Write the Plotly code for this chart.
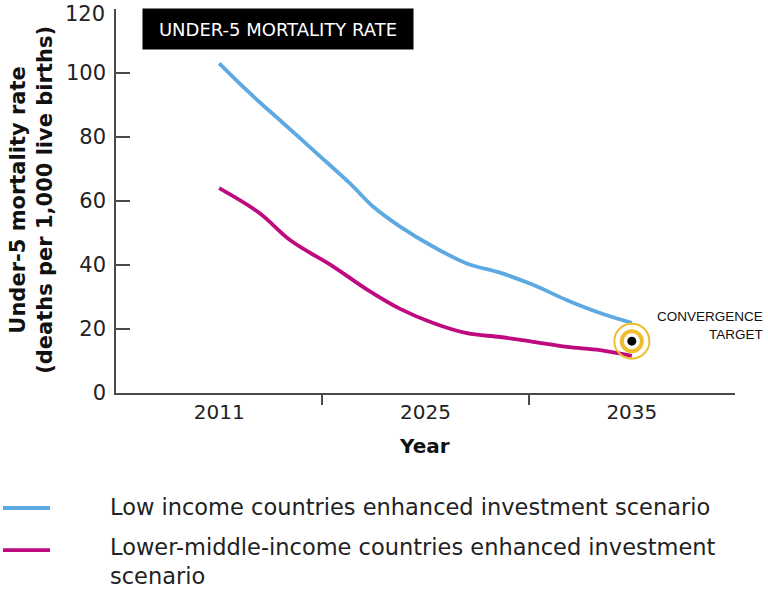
import plotly.graph_objects as go

# ---- data ----
year_labels = ["2011", "2025", "2035"]
year_index = [0, 1, 2]
y_ticks = [0, 20, 40, 60, 80, 100, 120]
y_ticktext = ["0", "20", "40", "60", "80", "100", ""]  # top label drawn separately (nudged down)
y_top_label = "120"

low_x = [0, 0.150, 0.311, 0.473, 0.634, 0.747, 0.877, 1.038, 1.200, 1.361, 1.521, 1.686, 1.846, 2.0]
low_y = [103.0, 93.6, 84.3, 74.9, 65.5, 58.2, 52.0, 45.7, 40.5, 37.6, 33.8, 29.0, 25.0, 21.9]

lmi_x = [0, 0.198, 0.343, 0.553, 0.715, 0.877, 1.037, 1.201, 1.361, 1.521, 1.686, 1.846, 2.0]
lmi_y = [64.0, 56.1, 47.8, 39.5, 32.4, 26.3, 21.9, 18.7, 17.5, 16.0, 14.4, 13.4, 11.6]

target_x = [2]
target_y = [16.2]

series_names = [
    "Low income countries enhanced investment scenario",
    "Lower-middle-income countries enhanced investment<br>scenario",
]

BLUE = "#5DA9E1"
MAGENTA = "#BE0A7E"
GOLD = "#EEBE30"
AXIS = "#4a4a4a"
FONT = "DejaVu Sans"
TICK_SIZE = 21

fig = go.Figure()
fig.add_trace(go.Scatter(x=low_x, y=low_y, mode="lines", line=dict(color=BLUE, width=3.8, shape="spline"),
                         showlegend=False, name=series_names[0]))
fig.add_trace(go.Scatter(x=lmi_x, y=lmi_y, mode="lines", line=dict(color=MAGENTA, width=3.8, shape="spline"),
                         showlegend=False, name=series_names[1]))
# convergence target
fig.add_trace(go.Scatter(x=target_x, y=target_y, mode="markers", showlegend=False,
                         marker=dict(symbol="circle-open", size=35, color=GOLD, line=dict(width=2))))
fig.add_trace(go.Scatter(x=target_x, y=target_y, mode="markers", showlegend=False,
                         marker=dict(symbol="circle-open", size=20, color=GOLD, line=dict(width=4))))
fig.add_trace(go.Scatter(x=target_x, y=target_y, mode="markers", showlegend=False,
                         marker=dict(symbol="circle", size=9, color="black")))

fig.update_layout(
    width=768, height=589,
    margin=dict(l=116, r=33, t=9, b=196, autoexpand=False),
    paper_bgcolor="white", plot_bgcolor="white",
    font=dict(family=FONT, color="#222"),
    xaxis=dict(range=[-0.5, 2.5], tickvals=year_index, ticktext=year_labels, automargin=False,
               ticks="inside", ticklen=0, showgrid=False, zeroline=False,
               showline=True, linecolor=AXIS, linewidth=1.5,
               tickfont=dict(size=20, family=FONT, color="#222"),
               minor=dict(tickmode="array", tickvals=[0.5, 1.5, 2.5], ticklen=10,
                          tickwidth=1.5, tickcolor=AXIS, showgrid=False),
               fixedrange=True),
    yaxis=dict(range=[0, 120], tickvals=y_ticks, ticktext=y_ticktext, automargin=False,
               ticks="inside", ticklen=14, tickwidth=1.5, tickcolor=AXIS,
               showgrid=False, zeroline=False, showline=True, linecolor=AXIS, linewidth=1.5,
               ticklabelstandoff=4,
               tickfont=dict(size=TICK_SIZE, family=FONT, color="#222"), fixedrange=True),
    shapes=[
        dict(type="line", xref="paper", yref="paper", x0=-0.1826, x1=-0.1066, y0=-0.2995, y1=-0.2995,
             line=dict(color=BLUE, width=3.8)),
        dict(type="line", xref="paper", yref="paper", x0=-0.1826, x1=-0.1066, y0=-0.409, y1=-0.409,
             line=dict(color=MAGENTA, width=3.8)),
    ],
    annotations=[
        dict(text=y_top_label, xref="paper", yref="y", x=0, y=y_ticks[-1], xanchor="right",
             yanchor="middle", xshift=-9, yshift=-5, showarrow=False,
             font=dict(size=TICK_SIZE, family=FONT, color="#222")),
        dict(text="UNDER-5 MORTALITY RATE", xref="paper", yref="paper", x=(142 - 116) / 619,
             y=(393 - 8) / 384, xanchor="left", yanchor="top", width=262, height=32, align="center",
             valign="middle", bgcolor="black", borderpad=4, showarrow=False,
             font=dict(size=18, color="white", family=FONT)),
        dict(text="CONVERGENCE<br>TARGET", xref="paper", yref="paper", x=(765 - 116) / 619, y=(393 - 325) / 384,
             xanchor="right", yanchor="middle", align="right", showarrow=False,
             font=dict(size=13.5, color="#111", family="Liberation Sans")),
        dict(text="<b>Under-5 mortality rate<br>(deaths per 1,000 live births)</b>", xref="paper", yref="paper",
             x=(32 - 116) / 619, y=0.503, xanchor="center", yanchor="middle", textangle=-90,
             showarrow=False, align="center",
             font=dict(size=21, color="#111", family=FONT)),
        dict(text="<b>Year</b>", xref="paper", yref="paper", x=0.499, y=(393 - 460) / 384,
             showarrow=False, font=dict(size=20, color="#111", family=FONT)),
        dict(text=series_names[0], xref="paper", yref="paper", x=-0.0129, y=(393 - 507) / 384,
             xanchor="left", yanchor="middle", showarrow=False, align="left",
             font=dict(size=22.5, color="#222", family=FONT)),
        dict(text=series_names[1], xref="paper", yref="paper", x=-0.0129, y=(393 - 561) / 384,
             xanchor="left", yanchor="middle", showarrow=False, align="left",
             font=dict(size=22.5, color="#222", family=FONT)),
    ],
)

fig.write_html("out.html", config={"displayModeBar": False},
               post_script="document.body.style.margin='0';")
